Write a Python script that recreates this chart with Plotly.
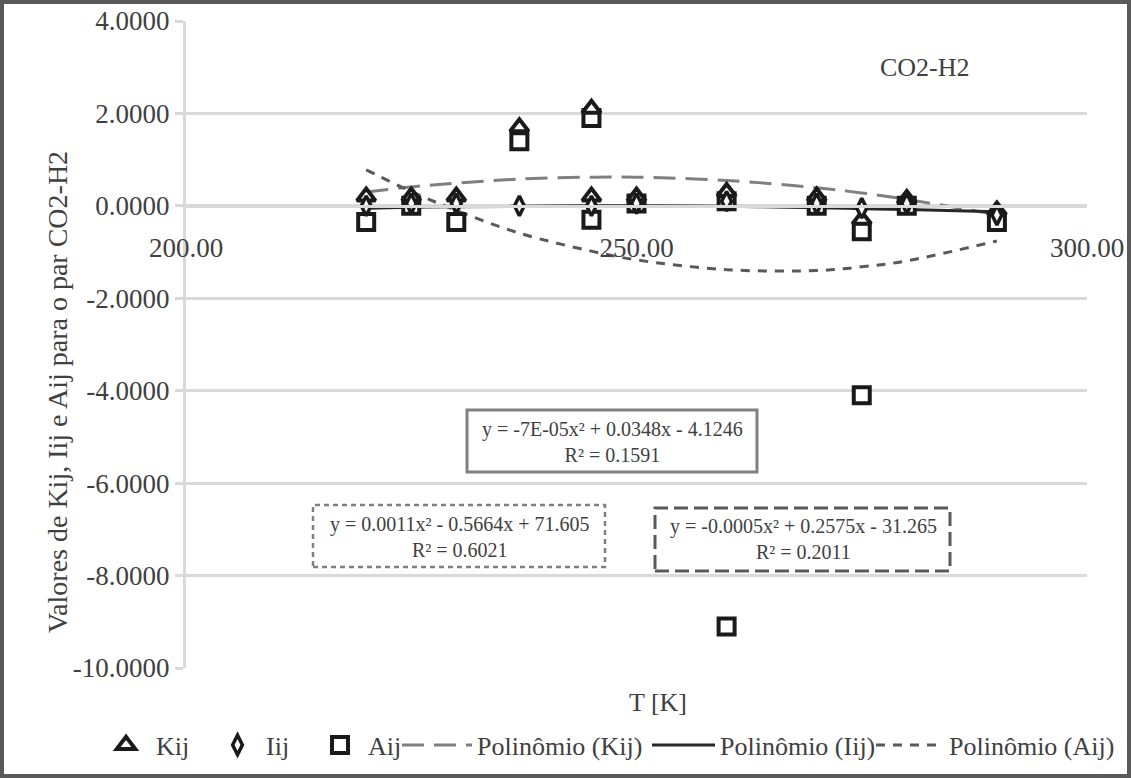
import plotly.graph_objects as go

# ---------------- data ----------------
T_K = [220, 225, 230, 237, 245, 245, 250, 260, 270, 275, 280, 290]
Kij = [0.20, 0.20, 0.20, 1.70, 2.10, 0.20, 0.20, 0.30, 0.20, -0.30, 0.15, -0.10]

T_I = [220, 225, 230, 237, 245, 250, 260, 270, 275, 280, 290]
Iij = [0.00, 0.05, 0.05, 0.00, 0.00, 0.05, 0.10, 0.05, -0.05, 0.05, -0.20]

T_A = [220, 225, 230, 237, 245, 245, 250, 260, 260, 270, 275, 275, 280, 290]
Aij = [-0.35, 0.00, -0.35, 1.40, 1.90, -0.30, 0.05, 0.10, -9.10, 0.00, -4.10, -0.55, 0.00, -0.35]

# trend curves (Excel polynomial trendlines) read at these temperatures
T_trend = [220, 225, 230, 237, 245, 250, 260, 270, 275, 280, 290]
Kij_trend = [0.30, 0.41, 0.49, 0.58, 0.62, 0.62, 0.55, 0.39, 0.28, 0.14, -0.19]
Iij_trend = [-0.05, -0.03, -0.02, -0.01, 0.00, 0.00, -0.01, -0.04, -0.06, -0.08, -0.13]
Aij_trend = [0.78, 0.31, -0.10, -0.59, -0.98, -1.17, -1.38, -1.40, -1.32, -1.19, -0.76]

eq_Iij = ["y = -7E-05x² + 0.0348x - 4.1246", "R² = 0.1591"]
eq_Aij = ["y = 0.0011x² - 0.5664x + 71.605", "R² = 0.6021"]
eq_Kij = ["y = -0.0005x² + 0.2575x - 31.265", "R² = 0.2011"]

x_ticks = [200, 250, 300]
x_ticklabels = ["200.00", "250.00", "300.00"]
y_ticks = [4, 2, 0, -2, -4, -6, -8, -10]
y_ticklabels = ["4.0000", "2.0000", "0.0000", "-2.0000", "-4.0000", "-6.0000", "-8.0000", "-10.0000"]

FONT = "Liberation Serif"
TXT = "#404040"

# ---------------- geometry helpers (pixel -> paper) ----------------
W, H = 1131, 778
L, R, TOP, BOT = 186, 44, 21, 110
PW = W - L - R
PH = H - TOP - BOT


def px(x):
    return (x - L) / PW


def py(y):
    return (H - BOT - y) / PH


fig = go.Figure()

# trendlines
fig.add_trace(go.Scatter(x=T_trend, y=Kij_trend, mode="lines", name="Polinômio (Kij)",
                         line=dict(color="#7f7f7f", width=3, dash="22px,10px", shape="spline"),
                         legend="legend4"))
fig.add_trace(go.Scatter(x=T_trend, y=Iij_trend, mode="lines", name="Polinômio (Iij)",
                         line=dict(color="#262626", width=3, shape="spline"),
                         legend="legend5"))
fig.add_trace(go.Scatter(x=T_trend, y=Aij_trend, mode="lines", name="Polinômio (Aij)",
                         line=dict(color="#595959", width=3, dash="9px,8px", shape="spline"),
                         legend="legend6"))

# markers
fig.add_trace(go.Scatter(x=T_A, y=Aij, mode="markers", name="Aij",
                         marker=dict(symbol="square", size=16, color="white",
                                     line=dict(color="#1a1a1a", width=4)),
                         legend="legend3"))
fig.add_trace(go.Scatter(x=T_K, y=Kij, mode="markers", name="Kij",
                         marker=dict(symbol="triangle-up", size=16, color="white",
                                     line=dict(color="#1a1a1a", width=4)),
                         legend="legend"))
fig.add_trace(go.Scatter(x=T_I, y=Iij, mode="markers", name="Iij",
                         marker=dict(symbol="diamond-tall", size=14, color="white",
                                     line=dict(color="#1a1a1a", width=3.5)),
                         legend="legend2"))

# ---------------- shapes: border + equation boxes ----------------
shapes = [
    dict(type="rect", xref="paper", yref="paper", x0=px(2), x1=px(1129), y0=py(776), y1=py(2),
         line=dict(color="#595959", width=4), layer="below"),
    dict(type="rect", xref="paper", yref="paper", x0=px(467), x1=px(757), y0=py(472), y1=py(410),
         line=dict(color="#808080", width=3), fillcolor="white"),
    dict(type="rect", xref="paper", yref="paper", x0=px(313), x1=px(605), y0=py(567), y1=py(505),
         line=dict(color="#7f7f7f", width=2.5, dash="5px,4px"), fillcolor="white"),
    dict(type="rect", xref="paper", yref="paper", x0=px(655), x1=px(950), y0=py(571), y1=py(508),
         line=dict(color="#595959", width=3, dash="14px,6px"), fillcolor="white"),
]


def ann(text, x, y, size, angle=0):
    return dict(text=text, x=px(x), y=py(y), xref="paper", yref="paper",
                xanchor="center", yanchor="middle", textangle=angle, showarrow=False,
                font=dict(family=FONT, size=size, color=TXT))


annotations = [
    ann("<br>".join(eq_Iij), 612, 442, 20),
    ann("<br>".join(eq_Aij), 459, 537, 20),
    ann("<br>".join(eq_Kij), 803, 539, 20),
    ann("CO2-H2", 925, 67, 26),
    ann("T [K]", 658, 702, 26),
    ann("Valores de Kij, Iij e Aij para o par CO2-H2", 58, 392, 28, -90),
]

leg_common = dict(orientation="h", yanchor="middle", xanchor="left", y=py(745),
                  font=dict(family=FONT, size=26, color=TXT), bgcolor="rgba(0,0,0,0)",
                  borderwidth=0, tracegroupgap=0)

fig.update_layout(
    width=W, height=H,
    margin=dict(l=L, r=R, t=TOP, b=BOT, autoexpand=False),
    paper_bgcolor="white", plot_bgcolor="white",
    font=dict(family=FONT, size=26, color=TXT),
    shapes=shapes, annotations=annotations,
    showlegend=True,
    legend=dict(x=px(96), itemwidth=50, **leg_common),
    legend2=dict(x=px(209), itemwidth=47, **leg_common),
    legend3=dict(x=px(312), itemwidth=46, **leg_common),
    legend4=dict(x=px(397), itemwidth=70, **leg_common),
    legend5=dict(x=px(647), itemwidth=63, **leg_common),
    legend6=dict(x=px(871), itemwidth=68, **leg_common),
    xaxis=dict(range=[200, 300], tickvals=x_ticks, ticktext=x_ticklabels,
               showgrid=False, zeroline=False, showline=True, linecolor="#d9d9d9", linewidth=3,
               anchor="free", position=py(206), ticks="", ticklabelstandoff=17,
               tickfont=dict(family=FONT, size=27, color=TXT)),
    yaxis=dict(range=[-10, 4], tickvals=y_ticks, ticktext=y_ticklabels,
               showgrid=True, gridcolor="#d9d9d9", gridwidth=3, zeroline=False,
               showline=True, linecolor="#d9d9d9", linewidth=3,
               ticks="outside", ticklen=8, tickwidth=3, tickcolor="#d9d9d9",
               tickfont=dict(family=FONT, size=27, color=TXT)),
)

fig.write_html("out.html")
